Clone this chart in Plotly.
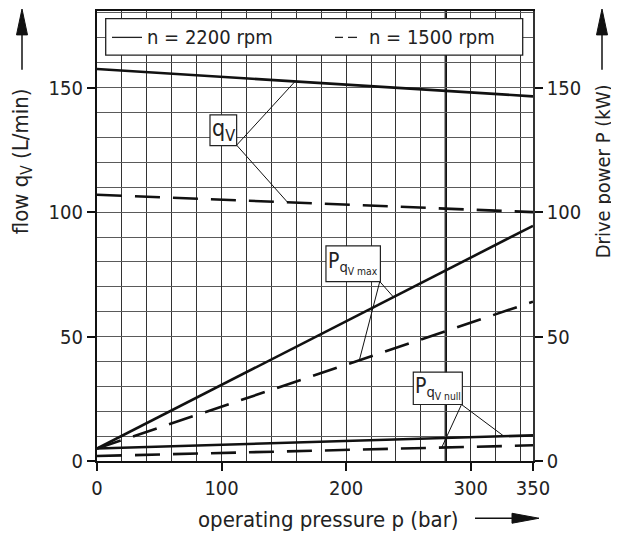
import numpy as np
import plotly.graph_objects as go

# ---- data ----
pressure = [0, 350]                 # operating pressure p (bar)
qv_2200 = [157.5, 146.5]            # flow qV at n = 2200 rpm (L/min)
qv_1500 = [107.0, 100.0]            # flow qV at n = 1500 rpm (L/min)
pmax_2200 = [5.0, 94.5]             # drive power P_qV max, 2200 rpm (kW)
pmax_1500 = [5.0, 64.0]             # drive power P_qV max, 1500 rpm (kW)
pnull_2200 = [5.0, 10.3]            # drive power P_qV null, 2200 rpm (kW)
pnull_1500 = [2.0, 6.3]             # drive power P_qV null, 1500 rpm (kW)

x_ticks = [0, 100, 200, 300, 350]
y_ticks = [0, 50, 100, 150]

FONT = "DejaVu Sans Condensed, DejaVu Sans, sans-serif"
OFF = 8                      # page offset of the figure inside the browser window
W, H = 619 - OFF, 538 - OFF
L, R, T, B = 97 - OFF, 86, 1, 77
X0, X1 = 0, 350
Y0, Y1 = 0, (H - B - T) / 2.5

def px2x(px):  # window pixel -> paper x
    return (px - OFF - L) / (W - L - R)

def py2y(py):  # window pixel -> paper y
    return (H - B - (py - OFF)) / (H - B - T)

fig = go.Figure()

solid = dict(color="#111", width=2.6)
dashed = dict(color="#111", width=2.6, dash="25px,13px")

for ys, ln in [(qv_2200, solid), (qv_1500, dashed), (pmax_2200, solid),
               (pmax_1500, dashed), (pnull_2200, solid), (pnull_1500, dashed)]:
    fig.add_trace(go.Scatter(x=pressure, y=ys, mode="lines", line=ln,
                             showlegend=False, hoverinfo="skip"))

# invisible trace on right axis so it renders
fig.add_trace(go.Scatter(x=[0], y=[0], yaxis="y2", mode="markers",
                         marker=dict(opacity=0), showlegend=False, hoverinfo="skip"))

shapes = []
# thick vertical line at 280 bar
shapes.append(dict(type="line", xref="x", yref="y", x0=280, x1=280, y0=Y0, y1=Y1,
                   line=dict(color="#111", width=2.4), layer="below"))

def curve_at(ys, p):
    return float(np.interp(p, pressure, ys))

boxes = [
    # (x0, x1, y0, y1, text, size, text_x, text_y, leader origin, [(curve, p), ...])
    (90.7, 112.1, 126.7, 139.1, "q<sub>V</sub>", 23, 101.4, 133.0, (112.1, 126.9),
     [(qv_2200, 159.0), (qv_1500, 153.0)]),
    (183.8, 227.5, 72.1, 86.4, "P<sub>q<sub>V max</sub></sub>", 21, 205.6, 79.4, (227.0, 72.1),
     [(pmax_2200, 238.0), (pmax_1500, 210.6)]),
    (253.9, 293.3, 22.7, 35.7, "P<sub>q<sub>V null</sub></sub>", 21, 273.6, 29.3, (292.6, 22.7),
     [(pnull_2200, 326.7), (pnull_1500, 276.7)]),
]
annotations = []
for (bx0, bx1, by0, by1, txt, sz, tx, ty, org, leaders) in boxes:
    for ys, p in leaders:
        shapes.append(dict(type="line", xref="x", yref="y", x0=org[0], y0=org[1],
                           x1=p, y1=curve_at(ys, p), line=dict(color="#111", width=1),
                           layer="above"))
    shapes.append(dict(type="rect", xref="x", yref="y", x0=bx0, x1=bx1, y0=by0, y1=by1,
                       fillcolor="white", line=dict(color="#222", width=1.2), layer="above"))
    annotations.append(dict(xref="x", yref="y", x=tx, y=ty, text=txt, showarrow=False,
                            xanchor="center", yanchor="middle",
                            font=dict(family=FONT, size=sz, color="#222")))

# legend box
shapes.append(dict(type="rect", xref="paper", yref="paper", x0=px2x(105.7), x1=px2x(522.7),
                   y0=py2y(53.3), y1=py2y(16.7), fillcolor="white",
                   line=dict(color="#222", width=1.3), layer="above"))
shapes.append(dict(type="line", xref="paper", yref="paper", x0=px2x(112), x1=px2x(142),
                   y0=py2y(35.5), y1=py2y(35.5), line=dict(color="#222", width=1.3), layer="above"))
for a, b in [(335, 343), (348, 357)]:
    shapes.append(dict(type="line", xref="paper", yref="paper", x0=px2x(a), x1=px2x(b),
                       y0=py2y(35.5), y1=py2y(35.5), line=dict(color="#222", width=1.3), layer="above"))
for txt, cx in [("n = 2200 rpm", 210), ("n = 1500 rpm", 432)]:
    annotations.append(dict(xref="paper", yref="paper", x=px2x(cx), y=py2y(35),
                            xanchor="center", yanchor="middle", text=txt, showarrow=False,
                            font=dict(family=FONT, size=20, color="#222")))

# axis titles
annotations.append(dict(xref="paper", yref="paper", x=px2x(22), y=py2y(160), textangle=-90,
                        xanchor="center", yanchor="middle",
                        text="flow q<sub>V</sub> (L/min)", showarrow=False,
                        font=dict(family=FONT, size=22, color="#222")))
annotations.append(dict(xref="paper", yref="paper", x=px2x(603), y=py2y(170), textangle=-90,
                        xanchor="center", yanchor="middle",
                        text="Drive power P (kW)", showarrow=False,
                        font=dict(family=FONT, size=20, color="#222")))
annotations.append(dict(xref="paper", yref="paper", x=px2x(328), y=py2y(520),
                        xanchor="center", yanchor="middle",
                        text="operating pressure p (bar)", showarrow=False,
                        font=dict(family=FONT, size=22, color="#222")))

# arrows
def vert_arrow(xp):
    shapes.append(dict(type="line", xref="paper", yref="paper", x0=px2x(xp), x1=px2x(xp),
                       y0=py2y(68), y1=py2y(30), line=dict(color="#111", width=1.5)))
    shapes.append(dict(type="path", xref="paper", yref="paper",
                       path=f"M {px2x(xp)},{py2y(7)} L {px2x(xp-5.5)},{py2y(33)} L {px2x(xp+5.5)},{py2y(33)} Z",
                       fillcolor="#111", line=dict(color="#111", width=1)))
vert_arrow(22)
vert_arrow(602)
shapes.append(dict(type="line", xref="paper", yref="paper", x0=px2x(475), x1=px2x(515),
                   y0=py2y(518.5), y1=py2y(518.5), line=dict(color="#111", width=1.5)))
shapes.append(dict(type="path", xref="paper", yref="paper",
                   path=f"M {px2x(539)},{py2y(518.5)} L {px2x(512)},{py2y(513.5)} L {px2x(512)},{py2y(523.5)} Z",
                   fillcolor="#111", line=dict(color="#111", width=1)))

xgrid = "#333333"
ygrid = "#5a5a5a"
tickfont = dict(family=FONT, size=20, color="#222")
fig.update_layout(
    width=W, height=H, margin=dict(l=L, r=R, t=T, b=B),
    paper_bgcolor="white", plot_bgcolor="white",
    font=dict(family=FONT, size=20, color="#222"),
    shapes=shapes, annotations=annotations,
    xaxis=dict(range=[X0, X1], tickmode="array", tickvals=x_ticks,
               ticks="outside", ticklen=8, tickcolor="#111", tickwidth=1.5,
               showgrid=True, gridcolor=xgrid, gridwidth=1.2,
               minor=dict(dtick=20, tick0=0, showgrid=True, gridcolor=xgrid, gridwidth=1.2),
               showline=True, linecolor="#111", linewidth=1.8, mirror=True,
               zeroline=False, tickfont=tickfont),
    yaxis=dict(range=[Y0, Y1], tickmode="array", tickvals=y_ticks,
               ticks="outside", ticklen=8, tickcolor="#111", tickwidth=1.5,
               showgrid=True, gridcolor=ygrid, gridwidth=1.2,
               minor=dict(dtick=10, tick0=0, showgrid=True, gridcolor=ygrid, gridwidth=1.2),
               showline=True, linecolor="#111", linewidth=2.2, mirror=True,
               zeroline=False, tickfont=tickfont),
    yaxis2=dict(range=[Y0, Y1], overlaying="y", side="right", tickmode="array",
                tickvals=y_ticks, ticks="outside", ticklen=8, tickcolor="#111", tickwidth=1.5,
                showgrid=False, zeroline=False, showline=True, linecolor="#333", linewidth=1.5,
                tickfont=tickfont),
)

fig.write_html("out.html")
